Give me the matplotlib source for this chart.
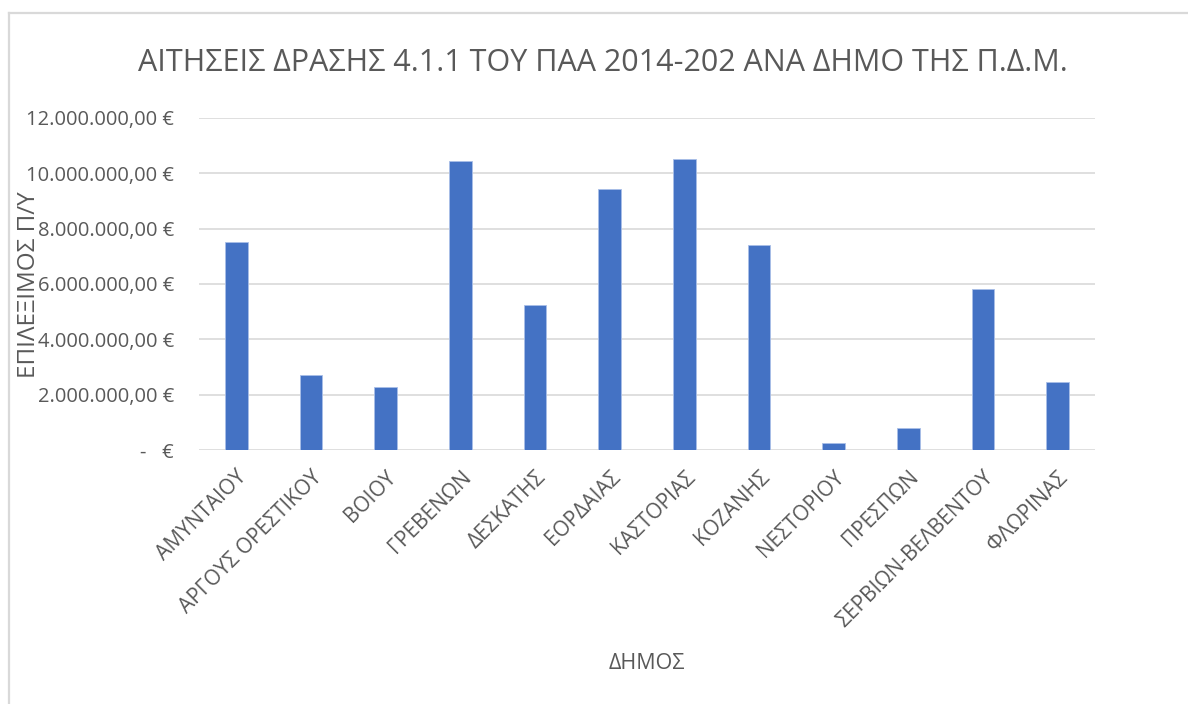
import matplotlib
matplotlib.use("Agg")
import matplotlib.pyplot as plt
from matplotlib.lines import Line2D
from matplotlib.ticker import FuncFormatter, MultipleLocator
import numpy as np

# municipalities and eligible budget (EUR)
dimoi = ['ΑΜΥΝΤΑΙΟΥ', 'ΑΡΓΟΥΣ ΟΡΕΣΤΙΚΟΥ', 'ΒΟΙΟΥ', 'ΓΡΕΒΕΝΩΝ', 'ΔΕΣΚΑΤΗΣ',
         'ΕΟΡΔΑΙΑΣ', 'ΚΑΣΤΟΡΙΑΣ', 'ΚΟΖΑΝΗΣ', 'ΝΕΣΤΟΡΙΟΥ', 'ΠΡΕΣΠΩΝ',
         'ΣΕΡΒΙΩΝ-ΒΕΛΒΕΝΤΟΥ', 'ΦΛΩΡΙΝΑΣ']
budget = [7500000, 2720000, 2270000, 10460000, 5230000,
          9440000, 10510000, 7400000, 270000, 780000,
          5820000, 2450000]

title = 'ΑΙΤΗΣΕΙΣ ΔΡΑΣΗΣ 4.1.1 ΤΟΥ ΠΑΑ 2014-202 ΑΝΑ ΔΗΜΟ ΤΗΣ Π.Δ.Μ.'
xlabel = 'ΔΗΜΟΣ'
ylabel = 'ΕΠΙΛΕΞΙΜΟΣ Π/Υ'

TEXT = '#595959'
GRID = '#D9D9D9'
BLUE = '#4472C4'

plt.rcParams['font.family'] = ['Open Sans', 'DejaVu Sans']


def euro(v, pos):
    if v == 0:
        return '-   €'
    s = f'{v:,.2f}'  # 12,000,000.00
    s = s.replace(',', 'X').replace('.', ',').replace('X', '.')
    return s + ' €'


fig = plt.figure(figsize=(11.88, 7.04), dpi=100)
ax = fig.add_axes([199 / 1188, 1 - 450 / 704, 896 / 1188, 332 / 704])

x = np.arange(len(dimoi))
ax.bar(x, budget, width=0.3, color=BLUE, edgecolor='#A9BFE8', linewidth=0.6, zorder=3)

ax.set_xlim(-0.5, len(dimoi) - 0.5)
ax.set_ylim(0, 12000000)
ax.yaxis.set_major_locator(MultipleLocator(2000000))
ax.yaxis.set_major_formatter(FuncFormatter(euro))
ax.grid(axis='y', color=GRID, linewidth=1.2, zorder=0)
ax.set_axisbelow(True)
for sp in ax.spines.values():
    sp.set_visible(False)

ax.tick_params(axis='y', length=0, pad=18, labelsize=14.5, labelcolor=TEXT)
ax.tick_params(axis='x', length=0, pad=12, labelsize=15, labelcolor=TEXT)
ax.set_xticks(x)
ax.set_xticklabels(dimoi, rotation=45, ha='right', va='top', rotation_mode='anchor')

ax.set_ylabel(ylabel, fontsize=17.5, color=TEXT)
ax.yaxis.set_label_coords(-0.176, 0.497)
ax.set_xlabel(xlabel, fontsize=15.5, color=TEXT)
ax.xaxis.set_label_coords(0.5, -0.61)

fig.text(603 / 1188, 1 - 63 / 704, title, fontsize=22, color=TEXT,
         ha='center', va='center')

# chart area frame (only left and top edges are visible)
fig.add_artist(Line2D([9 / 1188, 9 / 1188], [0, 1 - 13 / 704], color=GRID, linewidth=1.6))
fig.add_artist(Line2D([9 / 1188, 1], [1 - 13 / 704, 1 - 13 / 704], color=GRID, linewidth=1.6))

fig.savefig('out.png', dpi=100, facecolor='white')
